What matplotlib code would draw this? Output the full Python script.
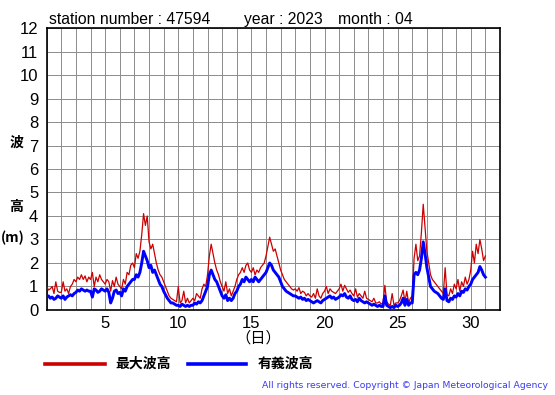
import numpy as np
import matplotlib
matplotlib.use('Agg')
import matplotlib.pyplot as plt

# 3-hourly readings, 8 per day, April 1..30 (plus the last point at May 1 0h)
days = list(range(1, 31))
sig_wave = [
    0.55, 0.6, 0.5, 0.55, 0.45, 0.5, 0.6, 0.55,
    0.5, 0.6, 0.45, 0.55, 0.6, 0.65, 0.6, 0.7,
    0.75, 0.85, 0.8, 0.9, 0.85, 0.8, 0.85, 0.8,
    0.8, 0.55, 0.9, 0.85, 0.75, 0.8, 0.9, 0.85,
    0.8, 0.9, 0.75, 0.3, 0.5, 0.8, 0.85, 0.7,
    0.75, 0.6, 0.9, 0.8, 1.0, 1.1, 1.2, 1.3,
    1.3, 1.5, 1.4, 1.6, 2.0, 2.5, 2.3, 2.1,
    1.8, 1.9, 1.6, 1.7, 1.5, 1.3, 1.1, 1.0,
    0.8, 0.65, 0.5, 0.4, 0.3, 0.3, 0.25, 0.2,
    0.2, 0.15, 0.25, 0.2, 0.15, 0.2, 0.15, 0.2,
    0.2, 0.3, 0.25, 0.35, 0.3, 0.4, 0.6, 0.8,
    1.0, 1.5, 1.7, 1.5, 1.3, 1.2, 1.0, 0.8,
    0.6, 0.5, 0.65, 0.4, 0.5, 0.4, 0.5, 0.7,
    0.8, 1.0, 1.1, 1.3, 1.2, 1.4, 1.3, 1.2,
    1.3, 1.2, 1.4, 1.3, 1.2, 1.3, 1.4, 1.5,
    1.6, 1.8, 2.0, 1.9, 1.7, 1.6, 1.5, 1.4,
    1.2, 1.0, 0.9, 0.8, 0.75, 0.7, 0.65, 0.6,
    0.6, 0.55, 0.5, 0.55, 0.45, 0.5, 0.4, 0.45,
    0.4, 0.35, 0.3, 0.35, 0.4, 0.35, 0.3, 0.4,
    0.45, 0.5, 0.55, 0.6, 0.5, 0.55, 0.45, 0.5,
    0.55, 0.65, 0.6, 0.7, 0.55, 0.5, 0.6, 0.45,
    0.4, 0.45, 0.35, 0.5, 0.4, 0.35, 0.3, 0.35,
    0.3, 0.25, 0.2, 0.25, 0.2, 0.15, 0.2, 0.15,
    0.15, 0.6, 0.2, 0.15, 0.1, 0.15, 0.1, 0.2,
    0.15, 0.2, 0.3, 0.5, 0.2, 0.45, 0.2, 0.3,
    0.3, 1.5, 1.6, 1.5, 1.7, 2.2, 2.9, 2.4,
    1.8, 1.4, 1.0, 0.9, 0.8, 0.75, 0.7, 0.6,
    0.5, 0.45, 0.9, 0.4, 0.35, 0.5, 0.45, 0.6,
    0.55, 0.7, 0.6, 0.8, 0.75, 0.9, 0.85, 1.0,
    1.1, 1.3, 1.4, 1.5, 1.6, 1.85, 1.7, 1.5,
    1.4,
]
max_wave = [
    1.0, 0.85, 0.9, 1.0, 0.7, 1.2, 0.8, 0.75,
    0.75, 1.2, 0.8, 0.9, 0.7, 1.0, 1.1, 1.3,
    1.2, 1.4, 1.3, 1.5, 1.3, 1.45, 1.2, 1.4,
    1.3, 1.6, 1.0, 1.4, 1.2, 1.5, 1.3, 1.2,
    1.1, 1.3, 1.2, 0.8, 1.25, 1.0, 1.4, 1.1,
    1.0, 0.9, 1.3, 1.1, 1.6, 1.5, 1.9, 2.0,
    1.8, 2.4, 2.2, 2.5, 3.2, 4.1, 3.6, 4.0,
    2.9, 2.6, 2.8, 2.4, 2.0, 1.7, 1.5, 1.4,
    1.2, 1.0, 0.8, 0.6, 0.5, 0.45, 0.4, 0.35,
    1.0, 0.3, 0.4, 0.8, 0.3, 0.5, 0.3, 0.4,
    0.5, 0.4, 0.7, 0.6, 0.5, 0.9, 1.1, 1.0,
    1.5, 2.3, 2.8, 2.4, 2.0, 1.7, 1.5, 1.2,
    1.0, 0.8, 1.2, 0.7, 0.9, 0.6, 0.8, 1.0,
    1.3, 1.5, 1.6, 1.8, 1.6, 1.9, 2.0, 1.7,
    1.6, 1.8, 1.5, 1.7, 1.6, 1.8, 1.9, 2.0,
    2.3, 2.7, 3.1, 2.8, 2.5, 2.6, 2.3, 2.0,
    1.7, 1.5, 1.3, 1.2, 1.1, 1.0, 0.9, 0.85,
    0.9, 0.8, 0.95, 0.7, 0.8, 0.75, 0.6, 0.7,
    0.6, 0.55, 0.7, 0.5, 0.9, 0.6, 0.5, 0.7,
    0.8, 1.0, 0.7, 0.9, 0.8, 0.75, 0.7, 0.8,
    0.9, 1.1, 0.8, 1.05, 0.9, 0.75, 0.85, 0.7,
    0.6, 0.9, 0.55, 0.7, 0.6, 0.5, 0.8, 0.5,
    0.45, 0.4, 0.35, 0.5, 0.3, 0.3, 0.35, 0.25,
    0.3, 1.05, 0.35, 0.25, 0.2, 0.7, 0.2, 0.3,
    0.3, 0.4, 0.6, 0.85, 0.35, 0.8, 0.3, 0.5,
    0.6, 2.2, 2.8, 2.1, 2.3, 3.3, 4.5, 3.5,
    2.5, 2.0, 1.5, 1.3, 1.2, 1.1, 1.0, 0.9,
    0.8, 0.7, 1.8, 0.65, 0.6, 0.9, 0.7, 1.1,
    0.9, 1.3, 0.8, 1.2, 1.0, 1.4, 1.1, 1.3,
    1.7, 2.5, 2.0, 2.8, 2.4, 3.0, 2.6, 2.1,
    2.3,
]
steps_per_day = 8
x_ticks = [5, 10, 15, 20, 25, 30]
y_ticks = list(range(0, 13))

station = '47594'
year = '2023'
month = '04'

NUM_FONT = ['Liberation Sans', 'DejaVu Sans']
JP_FONT = ['Noto Sans CJK JP', 'DejaVu Sans']


def plot_waves():
    fig = plt.figure(figsize=(5.55, 3.95), dpi=100)
    ax = fig.add_axes([0.0841, 0.2152, 0.8168, 0.7139])

    t = days[0] + np.arange(len(sig_wave)) / steps_per_day
    ax.plot(t, max_wave, color='#cc0000', lw=0.9, zorder=3)
    ax.plot(t, sig_wave, color='#0000ff', lw=2.1, zorder=4)

    ax.set_xlim(1, 32)
    ax.set_ylim(0, 12)
    ax.set_xticks(x_ticks)
    ax.set_xticks(range(1, 33), minor=True)
    ax.set_yticks(y_ticks)
    ax.grid(which='both', color='#8c8c8c', lw=0.7, zorder=0)
    ax.set_axisbelow(True)
    ax.tick_params(which='both', length=0)
    ax.tick_params(axis='x', pad=4)
    ax.tick_params(axis='y', pad=6)
    for lab in ax.get_xticklabels() + ax.get_yticklabels():
        lab.set_family(NUM_FONT)
        lab.set_fontsize(12)
    for side in ax.spines.values():
        side.set_color('black')
        side.set_linewidth(1.2)

    # header
    ytop = 1 - 24 / 395
    fig.text(49 / 555, ytop, 'station number : ' + station, family=NUM_FONT,
             fontsize=11.3, va='baseline')
    fig.text(244 / 555, ytop, 'year : ' + year, family=NUM_FONT,
             fontsize=11.3, va='baseline')
    fig.text(338 / 555, ytop, 'month : ' + month, family=NUM_FONT,
             fontsize=11.3, va='baseline')

    # y label split over three lines, like the original
    fig.text(16 / 555, 1 - 143 / 395, '波', family=JP_FONT, fontsize=10,
             weight='bold', ha='center', va='center')
    fig.text(16 / 555, 1 - 207 / 395, '高', family=JP_FONT, fontsize=10,
             weight='bold', ha='center', va='center')
    fig.text(13 / 555, 1 - 238 / 395, '(m)', family=JP_FONT, fontsize=10,
             weight='bold', ha='center', va='center')
    fig.text(258 / 555, 1 - 338 / 395, '（日）', family=JP_FONT, fontsize=11,
             ha='center', va='center')

    # legend drawn by hand under the axes
    yl = 1 - 364 / 395
    fig.add_artist(plt.Line2D([45 / 555, 105 / 555], [yl, yl], color='#cc0000', lw=2.6))
    fig.text(115 / 555, yl, '最大波高', family=JP_FONT, fontsize=10,
             weight='bold', va='center')
    fig.add_artist(plt.Line2D([188 / 555, 246 / 555], [yl, yl], color='#0000ff', lw=2.6))
    fig.text(258 / 555, yl, '有義波高', family=JP_FONT, fontsize=10,
             weight='bold', va='center')

    fig.text(548 / 555, 1 - 385 / 395,
             'All rights reserved. Copyright © Japan Meteorological Agency',
             family=['DejaVu Sans'], fontsize=6.7, color='#3b3bf0',
             ha='right', va='center')

    fig.savefig('out.png', dpi=100)
##END plot_waves


def main():
    plot_waves()


if __name__ == '__main__':
    main()
